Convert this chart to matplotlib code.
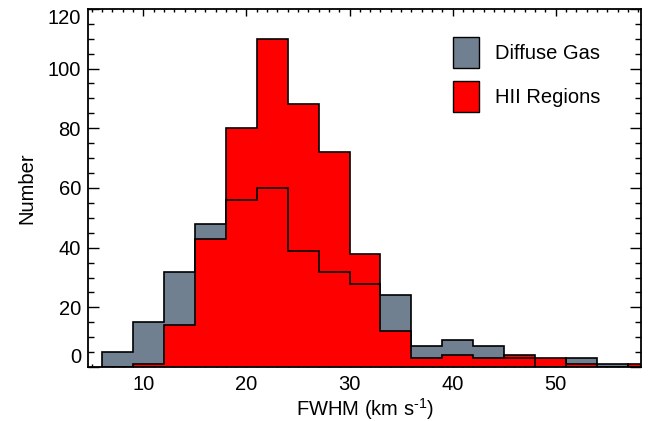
"""FWHM histogram of diffuse gas and HII regions."""

import numpy as np
import matplotlib.pyplot as plt
from matplotlib.patches import Patch

plt.rcParams['font.family'] = ['Liberation Sans', 'DejaVu Sans']
plt.rcParams['mathtext.fontset'] = 'custom'
plt.rcParams['mathtext.rm'] = 'Liberation Sans'

# bin edges (km/s), width 3
bin_edges = [6, 9, 12, 15, 18, 21, 24, 27, 30, 33, 36, 39, 42, 45, 48, 51, 54, 57, 60]
diffuse_counts = [5, 15, 32, 48, 56, 60, 39, 32, 28, 24, 7, 9, 7, 3, 0, 3, 1, 0]
hii_counts = [0, 1, 14, 43, 80, 110, 88, 72, 38, 12, 3, 4, 3, 4, 3, 1, 0, 1]

gray = '#708090'
red = '#ff0000'

fig = plt.figure(figsize=(6.51, 4.21), dpi=100)
ax = fig.add_axes([0.135, 0.128, 0.850, 0.851])
ax.set_axisbelow(True)

ax.stairs(diffuse_counts, bin_edges, fill=True, color=gray, zorder=1)
ax.stairs(hii_counts, bin_edges, fill=True, color=red, zorder=2)
ax.stairs(hii_counts, bin_edges, color='black', lw=1.2, zorder=3)
ax.stairs(diffuse_counts, bin_edges, color='black', lw=1.2, zorder=4)

ax.set_xlim(4.62, 58.3)
ax.set_ylim(0, 120)
ax.set_xticks([10, 20, 30, 40, 50])
ax.set_xticks(np.arange(5, 59, 1), minor=True)
ax.set_yticks([0, 20, 40, 60, 80, 100, 120])
ax.set_yticks(np.arange(0, 121, 5), minor=True)

ax.tick_params(axis='both', which='both', direction='in', top=True, right=True,
               width=1.0, labelsize=14.5)
ax.tick_params(axis='x', which='major', length=5, pad=6)
ax.tick_params(axis='x', which='minor', length=2.5)
ax.tick_params(axis='y', which='major', length=8, pad=5)
ax.tick_params(axis='y', which='minor', length=4)
for spine in ax.spines.values():
    spine.set_linewidth(1.3)
    spine.set_zorder(5)

ylabels = ax.get_yticklabels()
ylabels[0].set_verticalalignment('bottom')
ylabels[-1].set_verticalalignment('top')

ax.set_xlabel('FWHM (km s$^{\u20101}$)', fontsize=14.5, labelpad=1)
ax.set_ylabel('Number', fontsize=14.5, labelpad=8)

handles = [Patch(facecolor=gray, edgecolor='black', lw=1.0),
           Patch(facecolor=red, edgecolor='black', lw=1.0)]
ax.legend(handles, ['Diffuse Gas', 'HII Regions'], loc='upper left',
          bbox_to_anchor=(0.66, 0.921), frameon=False, fontsize=14.5,
          handlelength=1.29, handleheight=2.0, handletextpad=0.8,
          labelspacing=0.62, borderpad=0, borderaxespad=0)

fig.savefig('out.png', dpi=100)
